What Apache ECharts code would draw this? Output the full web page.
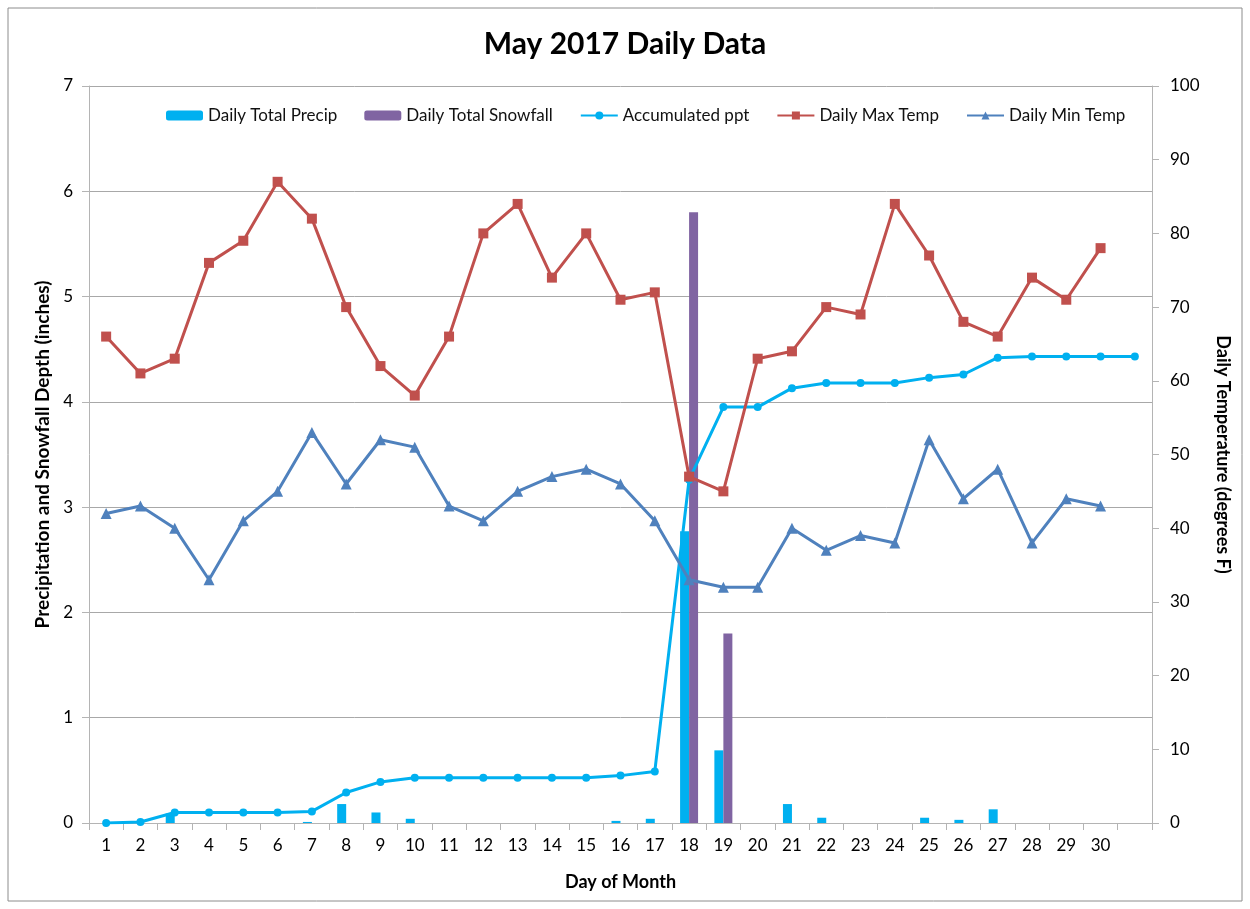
<!DOCTYPE html>
<html>
<head>
<meta charset="utf-8">
<script src="https://cdn.jsdelivr.net/npm/echarts@6/dist/echarts.min.js"></script>
<style>
html, body { margin: 0; padding: 0; background: #fff; }
#chart { width: 1250px; height: 909px; }
</style>
</head>
<body>
<div id="chart"></div>
<script>
var days = ['1','2','3','4','5','6','7','8','9','10','11','12','13','14','15','16','17','18','19','20','21','22','23','24','25','26','27','28','29','30',''];

var precip = [0, 0.01, 0.09, 0, 0, 0, 0.01, 0.18, 0.1, 0.04, 0, 0, 0, 0, 0, 0.02, 0.04, 2.77, 0.69, 0, 0.18, 0.05, 0, 0, 0.05, 0.03, 0.13, 0, 0, 0, null];
var snowfall = [0, 0, 0, 0, 0, 0, 0, 0, 0, 0, 0, 0, 0, 0, 0, 0, 0, 5.8, 1.8, 0, 0, 0, 0, 0, 0, 0, 0, 0, 0, 0, null];
var accumPpt = [0, 0.01, 0.1, 0.1, 0.1, 0.1, 0.11, 0.29, 0.39, 0.43, 0.43, 0.43, 0.43, 0.43, 0.43, 0.45, 0.49, 3.26, 3.95, 3.95, 4.13, 4.18, 4.18, 4.18, 4.23, 4.26, 4.42, 4.43, 4.43, 4.43, 4.43];
var maxTemp = [66, 61, 63, 76, 79, 87, 82, 70, 62, 58, 66, 80, 84, 74, 80, 71, 72, 47, 45, 63, 64, 70, 69, 84, 77, 68, 66, 74, 71, 78, null];
var minTemp = [42, 43, 40, 33, 41, 45, 53, 46, 52, 51, 43, 41, 45, 47, 48, 46, 41, 33, 32, 32, 40, 37, 39, 38, 52, 44, 48, 38, 44, 43, null];

var chart = echarts.init(document.getElementById('chart'));
var font = 'Lato, "Open Sans", sans-serif';
var axisGray = '#b4b4b4';

chart.setOption({
	animation: false,
	textStyle: { fontFamily: font },
	graphic: [{
		type: 'rect',
		shape: { x: 8, y: 8, width: 1234, height: 893 },
		style: { fill: 'none', stroke: '#8c8c8c', lineWidth: 1 },
		silent: true
	}],
	title: {
		text: 'May 2017 Daily Data',
		left: 'center',
		top: 24,
		textStyle: { fontSize: 30, fontWeight: 'bold', color: '#000', fontFamily: font }
	},
	legend: {
		left: 161,
		top: 102,
		itemWidth: 37,
		itemHeight: 10,
		itemGap: 27,
		textStyle: { fontSize: 17, color: '#111', fontFamily: font },
		data: ['Daily Total Precip', 'Daily Total Snowfall', 'Accumulated ppt', 'Daily Max Temp', 'Daily Min Temp']
	},
	grid: { left: 89, right: 98, top: 86, bottom: 86, containLabel: false },
	xAxis: {
		type: 'category',
		data: days,
		name: 'Day of Month',
		nameLocation: 'middle',
		nameGap: 50,
		nameTextStyle: { fontSize: 18, fontWeight: 'bold', color: '#000' },
		axisLine: { lineStyle: { color: axisGray } },
		axisTick: { show: true, alignWithLabel: false, length: 7, lineStyle: { color: axisGray } },
		axisLabel: { fontSize: 17, color: '#000', margin: 14, interval: 0 }
	},
	yAxis: [{
		type: 'value',
		min: 0,
		max: 7,
		interval: 1,
		name: 'Precipitation and Snowfall Depth (inches)',
		nameLocation: 'middle',
		nameGap: 35,
		nameTextStyle: { fontSize: 19, fontWeight: 'bold', color: '#000' },
		axisLine: { show: true, lineStyle: { color: axisGray } },
		axisTick: { show: true, length: 7, lineStyle: { color: axisGray } },
		axisLabel: { fontSize: 17, color: '#000', margin: 16 },
		splitLine: { show: true, lineStyle: { color: '#a8a8a8' } }
	}, {
		type: 'value',
		min: 0,
		max: 100,
		interval: 10,
		name: 'Daily Temperature (degrees F)',
		nameLocation: 'middle',
		nameGap: 62,
		nameRotate: 270,
		nameTextStyle: { fontSize: 18, fontWeight: 'bold', color: '#000' },
		axisLine: { show: true, lineStyle: { color: axisGray } },
		axisTick: { show: true, length: 7, lineStyle: { color: axisGray } },
		axisLabel: { fontSize: 17, color: '#000', margin: 18 },
		splitLine: { show: false }
	}],
	series: [{
		name: 'Daily Total Precip',
		type: 'bar',
		yAxisIndex: 0,
		barWidth: 9,
		barGap: '0%',
		itemStyle: { color: '#00B0F0' },
		data: precip
	}, {
		name: 'Daily Total Snowfall',
		type: 'bar',
		yAxisIndex: 0,
		barWidth: 9,
		barGap: '0%',
		itemStyle: { color: '#8064A2' },
		data: snowfall
	}, {
		name: 'Accumulated ppt',
		type: 'line',
		yAxisIndex: 0,
		symbol: 'circle',
		symbolSize: 8,
		lineStyle: { width: 3, color: '#00B0F0' },
		itemStyle: { color: '#00B0F0' },
		data: accumPpt
	}, {
		name: 'Daily Max Temp',
		type: 'line',
		yAxisIndex: 1,
		symbol: 'rect',
		symbolSize: 10,
		lineStyle: { width: 3, color: '#C0504D' },
		itemStyle: { color: '#C0504D' },
		data: maxTemp
	}, {
		name: 'Daily Min Temp',
		type: 'line',
		yAxisIndex: 1,
		symbol: 'triangle',
		symbolSize: 11,
		lineStyle: { width: 3, color: '#4F81BD' },
		itemStyle: { color: '#4F81BD' },
		data: minTemp
	}]
});
</script>
</body>
</html>
